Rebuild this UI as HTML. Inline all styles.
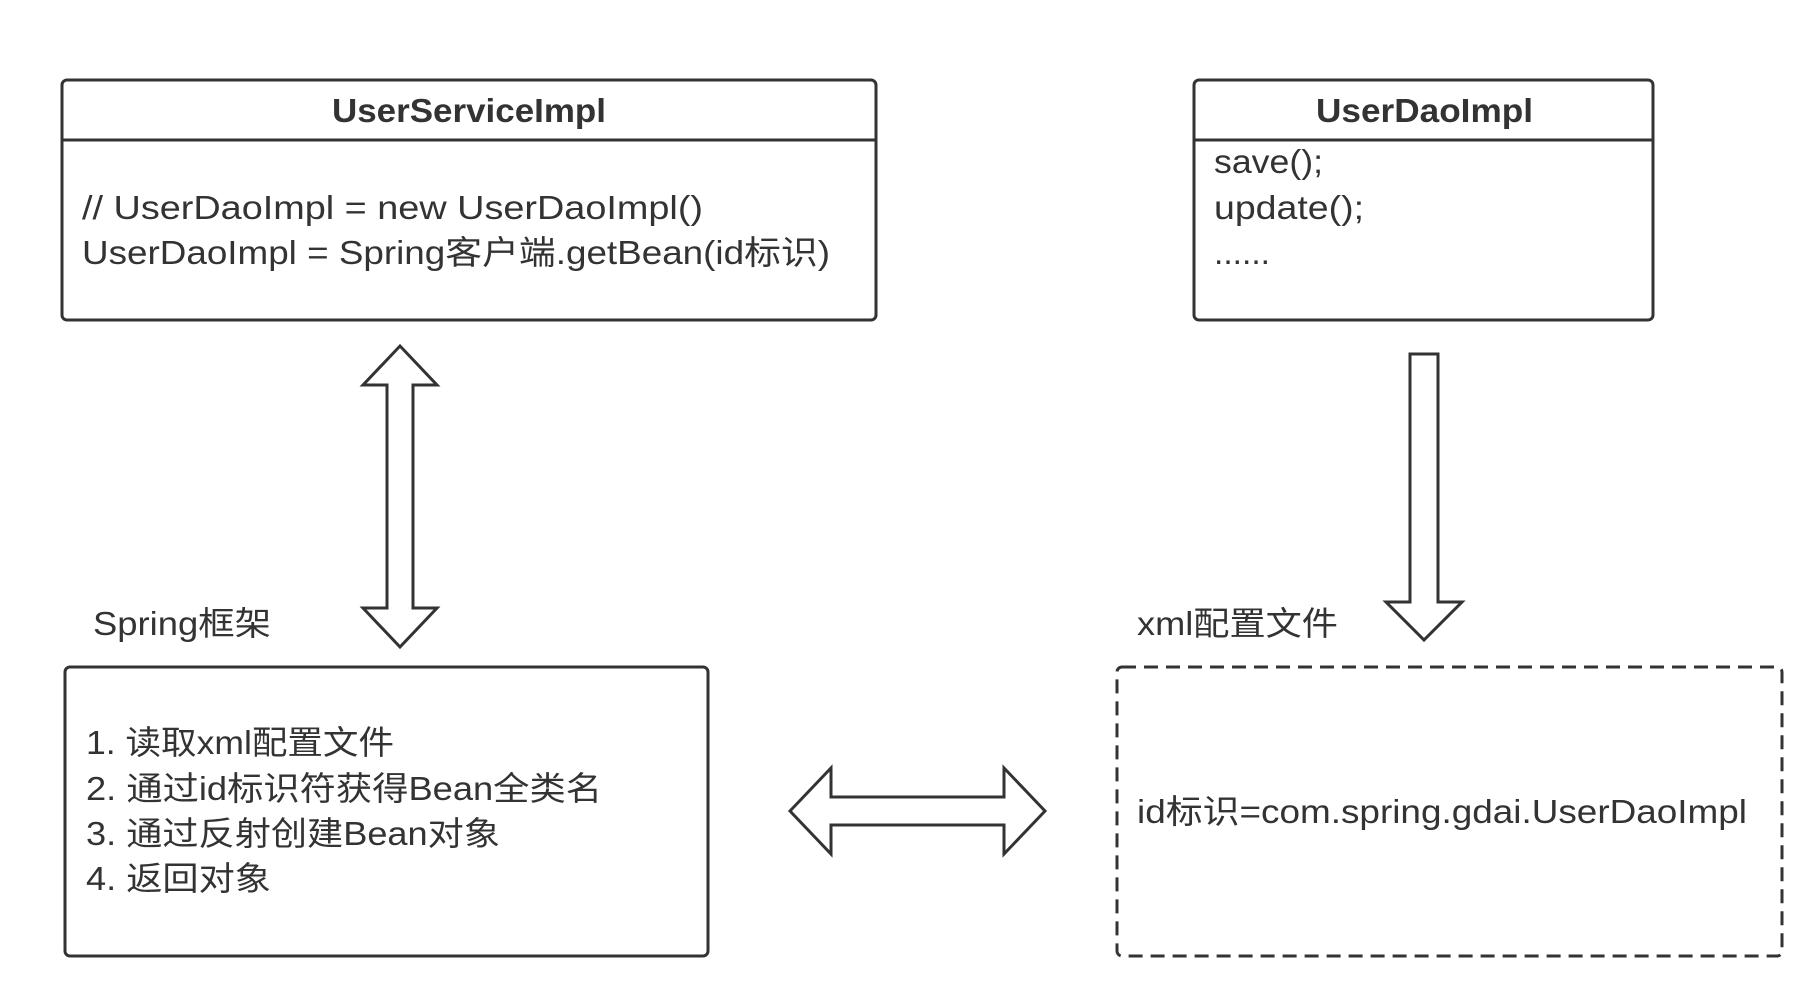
<!DOCTYPE html>
<html><head><meta charset="utf-8"><style>
body{margin:0;background:#fff;}
svg text{font-family:"Liberation Sans","Noto Sans CJK SC",sans-serif;fill:#333;font-size:33px;}
</style></head><body>
<svg width="1818" height="998" xmlns="http://www.w3.org/2000/svg">
<g fill="none" stroke="#333" stroke-width="3" stroke-linejoin="miter">
<rect x="62" y="80" width="814" height="240" rx="5"/>
<line x1="62" y1="140" x2="876" y2="140"/>
<rect x="1194" y="80" width="459" height="240" rx="5"/>
<line x1="1194" y1="140" x2="1653" y2="140"/>
<rect x="65" y="667" width="643" height="289" rx="5"/>
<rect x="1117" y="667" width="665" height="289" rx="5" stroke-dasharray="14,8"/>
<polygon points="400,346 437,385 413,385 413,608 437,608 400,647 363,608 387,608 387,385 363,385"/>
<polygon points="1410,354 1438,354 1438,602 1462,602 1424,640 1386,602 1410,602"/>
<polygon points="790,811 831,768 831,797 1004,797 1004,768 1045,811 1004,854 1004,825 831,825 831,854"/>
</g>
<g lengthAdjust="spacingAndGlyphs">
<text x="332" y="122" font-weight="bold" textLength="274" lengthAdjust="spacingAndGlyphs">UserServiceImpl</text>
<text x="1316" y="122" font-weight="bold" textLength="217" lengthAdjust="spacingAndGlyphs">UserDaoImpl</text>
<text x="82" y="219" textLength="621" lengthAdjust="spacingAndGlyphs">// UserDaoImpl = new UserDaoImpl()</text>
<text x="82" y="264" textLength="748" lengthAdjust="spacingAndGlyphs">UserDaoImpl = Spring客户端.getBean(id标识)</text>
<text x="1214" y="173" textLength="109" lengthAdjust="spacingAndGlyphs">save();</text>
<text x="1214" y="219" textLength="150" lengthAdjust="spacingAndGlyphs">update();</text>
<text x="1214" y="264" textLength="56" lengthAdjust="spacingAndGlyphs">......</text>
<text x="93" y="635" textLength="178" lengthAdjust="spacingAndGlyphs">Spring框架</text>
<text x="1137" y="635" textLength="201" lengthAdjust="spacingAndGlyphs">xml配置文件</text>
<text x="86" y="754" textLength="308" lengthAdjust="spacingAndGlyphs">1. 读取xml配置文件</text>
<text x="86" y="800" textLength="516" lengthAdjust="spacingAndGlyphs">2. 通过id标识符获得Bean全类名</text>
<text x="86" y="845" textLength="414" lengthAdjust="spacingAndGlyphs">3. 通过反射创建Bean对象</text>
<text x="86" y="890" textLength="185" lengthAdjust="spacingAndGlyphs">4. 返回对象</text>
<text x="1137" y="823" textLength="610" lengthAdjust="spacingAndGlyphs">id标识=com.spring.gdai.UserDaoImpl</text>
</g>
</svg>
</body></html>
